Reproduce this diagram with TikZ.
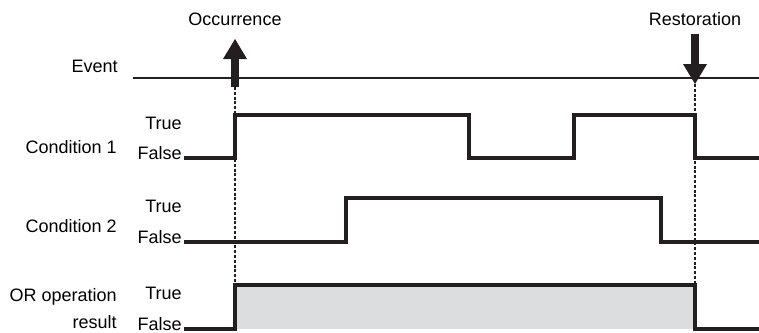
\documentclass[tikz,border=0pt]{standalone}
\usepackage{fontspec}
\setmainfont{Liberation Sans}
\usetikzlibrary{arrows.meta, positioning}
\definecolor{sigBlack}{HTML}{231F20}
\definecolor{sigGray}{HTML}{DCDDDF}

\begin{document}
\begin{tikzpicture}[
    x=0.75pt, y=-0.75pt,
    every node/.style={font=\fontsize{13.5}{20.25}\selectfont, inner sep=0pt},
    rowlabel/.style={anchor=base east},
    levellabel/.style={anchor=base east},
    eventlabel/.style={anchor=base},
    signal/.style={draw=sigBlack, line width=2.6pt, line join=miter},
    eventline/.style={draw=sigBlack, line width=1pt},
    marker/.style={draw=sigBlack, line width=1.4pt, dash pattern=on 2.2pt off 1.4pt},
    bigarrow/.style={-{Triangle[width=18pt, length=15pt, line width=0pt]},
                     draw=sigBlack, fill=sigBlack, line width=6.5pt},
]
\useasboundingbox (0,0) rectangle (759,332);

% row labels
\node[rowlabel] (ev) at (118,72) {Event};
\node[rowlabel] (c1) at (117,153) {Condition 1};
\node[rowlabel] (c2) at (117,232) {Condition 2};
\node[anchor=east, align=right] (or) at (117,309) {OR operation\\result};

% True / False levels
\node[levellabel] (c1t) at (182,129) {True};
\node[levellabel] (c1f) at (182,159) {False};
\node[levellabel] (c2t) at (182,212) {True};
\node[levellabel] (c2f) at (182,243) {False};
\node[levellabel] (ort) at (182,299) {True};
\node[levellabel] (orf) at (182,330) {False};

% event line and markers
\draw[eventline] (133,78) -- (759,78);
\node[eventlabel] (occ) at (235,26) {Occurrence};
\node[eventlabel] (rst) at (695,25) {Restoration};
\coordinate (occTail) at (235,87);
\coordinate (occTip) at (235,39);
\coordinate (rstTail) at (695,34);
\coordinate (rstTip) at (695,84);
\coordinate (occEnd) at (235,285);
\coordinate (rstEnd) at (695,285);

\draw[marker] (occTail) -- (occEnd);
\draw[marker] (rstTip) -- (rstEnd);
\draw[bigarrow] (occTail) -- (occTip);
\draw[bigarrow] (rstTail) -- (rstTip);

% waveforms
\draw[signal] (184,158) -- (235,158) -- (235,115) -- (469,115) -- (469,158)
    -- (574,158) -- (574,115) -- (695,115) -- (695,158) -- (759,158);
\draw[signal] (184,242) -- (346,242) -- (346,198) -- (661,198) -- (661,242)
    -- (759,242);
\fill[sigGray] (235,285) rectangle (695,329);
\draw[signal] (184,329) -- (235,329) -- (235,285) -- (695,285) -- (695,329)
    -- (759,329);
\end{tikzpicture}
\end{document}
